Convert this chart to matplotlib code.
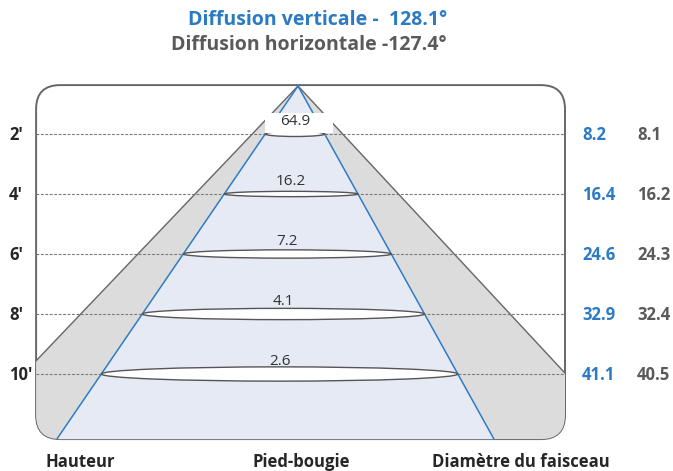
import matplotlib.pyplot as plt
from matplotlib.patches import FancyBboxPatch, Polygon, Ellipse, Rectangle

plt.rcParams['font.family'] = ['Open Sans', 'DejaVu Sans']

# data
heights = [2, 4, 6, 8, 10]
height_labels = ["2'", "4'", "6'", "8'", "10'"]
footcandles = [64.9, 16.2, 7.2, 4.1, 2.6]
diam_vertical = [8.2, 16.4, 24.6, 32.9, 41.1]
diam_horizontal = [8.1, 16.2, 24.3, 32.4, 40.5]
angle_vertical = 128.1
angle_horizontal = 127.4

BLUE = '#2b7bc4'
GREY = '#5a5a5a'
DARK = '#262626'

W, H = 673, 471
PX = 30.0          # pixels per drawing unit (one foot of height)
AX0, AY0 = 298, 74  # pixel position of x=0, height=0

fig = plt.figure(figsize=(W / 100, H / 100), dpi=100)
ax = fig.add_axes([0, 0, 1, 1])
ax.set_xlim(-AX0 / PX, (W - AX0) / PX)
ax.set_ylim((H - AY0) / PX, -AY0 / PX)
ax.axis('off')

def px(x, y):
    return x / W, 1 - y / H

# rounded frame
bx0, bx1 = -8.73, 8.9
by0, by1 = 0.37, 12.17
frame = FancyBboxPatch((bx0, by0), bx1 - bx0, by1 - by0,
                       boxstyle='round,pad=0,rounding_size=0.8',
                       facecolor='white', edgecolor='#666666', lw=1.4, zorder=1)
ax.add_patch(frame)

apex = (0.0, 0.4)
blue_l, blue_r = -0.683, 0.555
grey_l, grey_r = -0.953, 0.93
far = 20

def edge(slope, h):
    return apex[0] + slope * (h - apex[1])

grey = Polygon([apex, (edge(grey_l, far), far), (edge(grey_r, far), far)],
               closed=True, facecolor='#dcdcdd', edgecolor='none', zorder=2)
ax.add_patch(grey)
grey.set_clip_path(frame)
beam = Polygon([apex, (edge(blue_l, far), far), (edge(blue_r, far), far)],
               closed=True, facecolor='#e6eaf5', edgecolor='none', zorder=3)
ax.add_patch(beam)
beam.set_clip_path(frame)

for s, c, lw in [(grey_l, '#666666', 1.0), (grey_r, '#666666', 1.0),
                 (blue_l, '#2f7bc6', 1.1), (blue_r, '#2f7bc6', 1.1)]:
    ln, = ax.plot([apex[0], edge(s, far)], [apex[1], far], color=c, lw=lw, zorder=4)
    ln.set_clip_path(frame)

# height levels
for i, h in enumerate(heights):
    ax.plot([bx0, bx1], [h, h], color='#7a7a7a', lw=0.8,
            linestyle=(0, (2.5, 1.5)), zorder=5)
    xl, xr = edge(blue_l, h), edge(blue_r, h)
    w = xr - xl
    eh = max(5 / PX, 0.04 * w)
    ax.add_patch(Ellipse(((xl + xr) / 2, h), w, eh, facecolor='white',
                         edgecolor='#555555', lw=1.0, zorder=6))
    if i == 0:
        ax.add_patch(Rectangle(((xl + xr) / 2 - 30 / PX, h - 0.7), 68 / PX, 0.66,
                               facecolor='white', edgecolor='none', zorder=7))
    ax.text((xl + xr) / 2, h - 0.42, f'{footcandles[i]}', ha='center', va='center',
            fontsize=11, color='#333333', zorder=8)
    ax.text(-289 / PX, h + 0.03, height_labels[i], ha='left', va='center',
            fontsize=12, fontweight='bold', color=DARK)
    ax.text(284 / PX, h + 0.03, f'{diam_vertical[i]}', ha='left', va='center',
            fontsize=12, fontweight='bold', color=BLUE)
    ax.text(339 / PX, h + 0.03, f'{diam_horizontal[i]}', ha='left', va='center',
            fontsize=12, fontweight='bold', color=GREY)

# titles
fig.text(*px(447, 20), f'Diffusion verticale -  {angle_vertical}°', ha='right',
         va='center', fontsize=14, fontweight='bold', color=BLUE)
fig.text(*px(447, 45), f'Diffusion horizontale -{angle_horizontal}°', ha='right',
         va='center', fontsize=14, fontweight='bold', color=GREY)

# bottom labels
fig.text(*px(80, 462), 'Hauteur', ha='center', va='center', fontsize=12,
         fontweight='bold', color=DARK)
fig.text(*px(301, 462), 'Pied-bougie', ha='center', va='center', fontsize=12,
         fontweight='bold', color=DARK)
fig.text(*px(521, 462), 'Diamètre du faisceau', ha='center', va='center',
         fontsize=12, fontweight='bold', color=DARK)

fig.savefig('out.png', dpi=100)
